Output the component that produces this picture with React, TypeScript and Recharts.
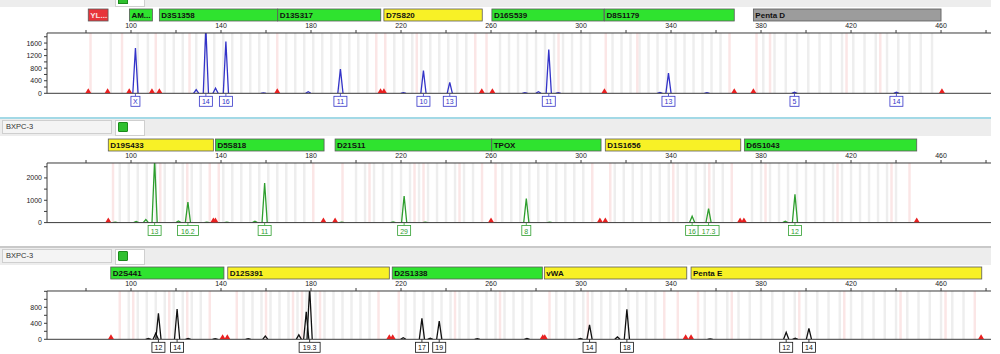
import React from 'react';
import { ComposedChart, Bar, Scatter, XAxis, YAxis, ReferenceArea, ReferenceLine, LabelList } from 'recharts';

const FONT = '"Liberation Sans", Arial, sans-serif';

// size axis (bp)
const SIZE_DOMAIN: [number, number] = [62.67, 482.2];
const SIZE_TICKS = [80, 100, 120, 140, 160, 180, 200, 220, 240, 260, 280, 300, 320, 340, 360, 380, 400, 420, 440, 460, 480];
const SIZE_LABELS = [100, 140, 180, 220, 260, 300, 340, 380, 420, 460];

// ---- panel 1 (blue dye) ----
const P1_SIZES = [101.9, 128.9, 133.2, 137.5, 142.1, 158.8, 178.7, 193.0, 221.0, 229.9, 241.6, 275.0, 281.0, 285.6, 289.8, 335.0, 338.8, 355.9, 394.8, 440.1];
const P1_RFU = [1440, 120, 2100, 160, 1650, 15, 50, 770, 20, 725, 350, 20, 50, 1390, 20, 30, 640, 20, 35, 35];
const P1_ALLELES = ['X', '', '14', '', '16', '', '', '11', '', '10', '13', '', '', '11', '', '', '13', '', '5', '14'];
const P1_MARKERS = [81.0, 89.6, 99.2, 109.3, 112.6, 165.0, 210.9, 212.4, 255.9, 260.6, 310.4, 368.1, 376.6, 460.4];
const P1_LOCI = ['YL...', 'AM...', 'D3S1358', 'D13S317', 'D7S820', 'D16S539', 'D8S1179', 'Penta D'];
const P1_LOCUS_START = [81, 99.3, 112.6, 165.2, 212.4, 260.4, 310.4, 376.6];
const P1_LOCUS_END = [89.8, 109.5, 165.2, 211, 256.1, 310.2, 368.1, 460];
const P1_LOCUS_KIND = ['red', 'green', 'green', 'green', 'yellow', 'green', 'green', 'grey'];
const P1_GREY_BINS = [91, 103, 107.5, 115, 119, 123, 129, 133, 137, 141, 145, 149, 153, 157, 161, 169, 173, 177, 181, 185, 189, 193, 197, 201, 205, 217, 221, 225, 229, 233, 237, 241, 245, 249, 264, 268, 272, 276, 280, 284, 288, 292, 296, 300, 304, 314, 318, 322, 326, 330, 334, 338, 342, 346, 350, 354, 358, 362, 381, 386, 391, 396, 401, 406, 411, 416, 421, 426, 431, 436, 441, 446, 451, 456];
const P1_PINK_BINS = [82, 96, 111, 126, 165, 209, 213, 227, 253, 258, 290, 311, 325, 366, 378, 384, 418, 433];
const P1_Y_TICKS = [0, 200, 400, 600, 800, 1000, 1200, 1400, 1600, 1800];
const P1_Y_LABELS = [0, 400, 800, 1200, 1600];

// ---- panel 2 (green dye) ----
const P2_SIZES = [92.9, 102.2, 106.5, 110.4, 121.0, 125.2, 133.6, 142.5, 155.0, 159.3, 193.6, 216.4, 221.3, 230.7, 275.6, 286.0, 349.3, 356.6, 390.7, 395.0];
const P2_RFU = [20, 50, 134, 2800, 70, 924, 20, 15, 60, 1776, 15, 30, 1193, 15, 1076, 20, 283, 628, 60, 1269];
const P2_ALLELES = ['', '', '', '13', '', '16.2', '', '', '', '11', '', '', '29', '', '8', '', '16', '17.3', '', '12'];
const P2_MARKERS = [89.9, 136.6, 137.5, 185.5, 190.7, 260, 308.4, 310.8, 370.7, 372.4, 449.2];
const P2_LOCI = ['D19S433', 'D5S818', 'D21S11', 'TPOX', 'D1S1656', 'D6S1043'];
const P2_LOCUS_START = [89.9, 137.5, 190.7, 260.3, 310.8, 372.6];
const P2_LOCUS_END = [136.6, 185.8, 260.3, 308.9, 371, 449.2];
const P2_LOCUS_KIND = ['yellow', 'green', 'green', 'green', 'yellow', 'green'];
const P2_GREY_BINS = [95, 99, 103, 107, 111, 115, 119, 123, 127, 131, 141, 145, 149, 153, 157, 161, 165, 169, 173, 177, 200, 204, 208, 212, 216, 220, 224, 228, 232, 236, 240, 244, 248, 252, 265, 269, 273, 277, 281, 285, 289, 293, 297, 301, 315, 319, 323, 327, 331, 335, 339, 343, 347, 351, 355, 359, 363, 376, 380, 384, 388, 392, 396, 400, 404, 408, 412, 416, 420, 424, 428, 432, 436, 440];
const P2_PINK_BINS = [92, 113, 125, 135, 139, 181, 194, 206, 226, 230, 246, 256, 262, 305, 313, 341, 357, 367, 382, 414, 438, 446];
const P2_Y_TICKS = [0, 500, 1000, 1500, 2000, 2500];
const P2_Y_LABELS = [0, 1000, 2000];

// ---- panel 3 (black dye) ----
const P3_SIZES = [107.6, 110.9, 112.1, 120.4, 125.3, 137.3, 152.0, 159.6, 174.5, 177.8, 179.3, 220.9, 229.2, 232.9, 236.9, 253.8, 275.9, 299.6, 303.7, 316.1, 320.3, 357.3, 391.1, 395.1, 401.2];
const P3_RFU = [20, 150, 650, 758, 20, 15, 15, 80, 110, 690, 1300, 40, 525, 30, 458, 15, 20, 20, 358, 60, 750, 10, 175, 30, 275];
const P3_ALLELES = ['', '', '12', '14', '', '', '', '', '', '', '19.3', '', '17', '', '19', '', '', '', '14', '', '18', '', '12', '', '14'];
const P3_MARKERS = [91.1, 140.7, 142.8, 214.8, 216.3, 283, 283.9, 346.5, 348.9, 477.8];
const P3_LOCI = ['D2S441', 'D12S391', 'D2S1338', 'vWA', 'Penta E'];
const P3_LOCUS_START = [91, 143, 216.1, 283.7, 348.9];
const P3_LOCUS_END = [141.3, 214.8, 282.8, 347, 478.1];
const P3_LOCUS_KIND = ['green', 'yellow', 'green', 'yellow', 'yellow'];
const P3_GREY_BINS = [99, 103, 107, 111, 115, 119, 123, 127, 131, 150, 154, 158, 162, 166, 170, 174, 178, 182, 186, 190, 194, 198, 202, 206, 222, 226, 230, 234, 238, 242, 246, 250, 254, 258, 262, 266, 270, 274, 278, 289, 293, 297, 301, 305, 309, 313, 317, 321, 325, 329, 333, 355, 360, 365, 370, 375, 380, 385, 390, 395, 400, 405, 410, 415, 420, 425, 430, 435, 440, 445, 450, 455, 460, 465, 470];
const P3_PINK_BINS = [95, 101, 117, 125, 135, 147, 160, 172, 176, 184, 210, 219, 244, 264, 286, 303, 337, 343, 352, 367, 397, 417, 442, 462, 475];
const P3_Y_TICKS = [0, 200, 400, 600, 800, 1000, 1200];
const P3_Y_LABELS = [0, 400, 800];

const LOCUS_FILL: Record<string, string> = {
  red: '#e8343a',
  green: '#2fe32f',
  yellow: '#f8f126',
  grey: '#9c9c9c',
};

const buildPeaks = (sizes: number[], rfu: number[], alleles: string[]) =>
  sizes.map((s, i) => ({ size: s, rfu: rfu[i], allele: alleles[i] }));

const buildLoci = (names: string[], starts: number[], ends: number[], kinds: string[]) =>
  names.map((n, i) => ({ name: n, start: starts[i], end: ends[i], kind: kinds[i] }));

const Peak = (props: any) => {
  const { x, y, width, height, color } = props;
  if (x == null || y == null) return null;
  const cx = x + width / 2;
  const base = y + height;
  return (
    <path d={`M${cx - 2.6},${base} L${cx},${y} L${cx + 2.6},${base}`} fill="none" stroke={color} strokeWidth={1.3} />
  );
};

const Marker = (props: any) => {
  const { cx, cy } = props;
  return <path d={`M${cx - 3},${cy} L${cx},${cy - 5} L${cx + 3},${cy} Z`} fill="#e82020" />;
};

const AlleleBox = (props: any) => {
  const vb = props.viewBox || props;
  const value = props.value;
  if (!value) return null;
  const x = vb.x ?? props.x;
  const y = vb.y ?? props.y;
  const w = vb.width ?? props.width;
  const h = vb.height ?? props.height;
  const cx = x + w / 2;
  const base = y + h;
  const bw = String(value).length * 4 + 5;
  return (
    <g>
      <line x1={cx} y1={base} x2={cx} y2={base + 3} stroke={props.color} strokeWidth={0.8} />
      <rect x={cx - bw / 2} y={base + 3} width={bw} height={10} fill="#fff" stroke={props.color} strokeWidth={0.8} />
      <text x={cx} y={base + 11} textAnchor="middle" fontSize={7} fontFamily={FONT} fill={props.color}>
        {value}
      </text>
    </g>
  );
};

const LocusBar = (props: any) => {
  const { x, y, width, name, kind } = props;
  if (x == null || y == null) return null;
  return (
    <g>
      <rect x={x} y={y - 24} width={width} height={12} fill={LOCUS_FILL[kind]} stroke="#5a5a5a" strokeWidth={0.8} />
      <text x={x + 2} y={y - 15} fontSize={8} fontWeight="bold" fontFamily={FONT} fill={kind === 'red' ? '#fbe0e0' : '#111'}>
        {name}
      </text>
    </g>
  );
};

interface PanelProps {
  top: number;
  plotH: number;
  peaks: { size: number; rfu: number; allele: string }[];
  markers: number[];
  loci: { name: string; start: number; end: number; kind: string }[];
  greyBins: number[];
  pinkBins: number[];
  yMax: number;
  yTicks: number[];
  yLabels: number[];
  color: string;
}

const Panel: React.FC<PanelProps> = ({ top, plotH, peaks, markers, loci, greyBins, pinkBins, yMax, yTicks, yLabels, color }) => {
  const markerData = markers.map(m => ({ size: m, rfu: 0 }));
  return (
    <div style={{ position: 'absolute', left: 0, top }}>
      <ComposedChart width={1000} height={36 + plotH + 18} data={peaks} margin={{ top: 22, right: 9, bottom: 18, left: 0 }}>
        <XAxis
          dataKey="size"
          type="number"
          orientation="top"
          domain={SIZE_DOMAIN}
          allowDataOverflow
          ticks={SIZE_TICKS}
          interval={0}
          tickFormatter={(v: number) => (SIZE_LABELS.includes(v) ? String(v) : '')}
          height={14}
          tickSize={3}
          stroke="#3a3a3a"
          tick={{ fontSize: 7, fill: '#222', fontFamily: FONT }}
        />
        <YAxis
          type="number"
          domain={[0, yMax]}
          allowDataOverflow
          ticks={yTicks}
          interval={0}
          tickFormatter={(v: number) => (yLabels.includes(v) ? String(v) : '')}
          width={47}
          tickSize={3}
          stroke="#3a3a3a"
          tick={{ fontSize: 7, fill: '#222', fontFamily: FONT }}
        />
        {greyBins.map(b => (
          <ReferenceArea key={'g' + b} x1={b - 0.55} x2={b + 0.55} y1={0} y2={yMax} fill="#eeeeee" fillOpacity={1} stroke="none" />
        ))}
        {pinkBins.map(b => (
          <ReferenceArea key={'p' + b} x1={b - 0.55} x2={b + 0.55} y1={0} y2={yMax} fill="#fbe6e6" fillOpacity={1} stroke="none" />
        ))}
        {loci.map(l => (
          <ReferenceArea
            key={l.name}
            x1={l.start}
            x2={l.end}
            y1={0}
            y2={yMax}
            fill="none"
            shape={(p: any) => <LocusBar {...p} name={l.name} kind={l.kind} />}
          />
        ))}
        <ReferenceLine y={0} stroke="#3a3a3a" />
        <Scatter data={markerData} dataKey="rfu" isAnimationActive={false} shape={Marker} />
        <Bar dataKey="rfu" isAnimationActive={false} shape={(p: any) => <Peak {...p} color={color} />}>
          <LabelList dataKey="allele" content={(p: any) => <AlleleBox {...p} color={color} />} />
        </Bar>
      </ComposedChart>
    </div>
  );
};

const Header = ({ top, label, cyan }: { top: number; label: string; cyan?: boolean }) => (
  <>
    <div style={{ position: 'absolute', left: 0, top: top - 2, width: 991, height: 2, background: cyan ? '#a3d9e6' : '#c9c9c9' }} />
    <div style={{ position: 'absolute', left: 0, top, width: 991, height: 17, background: '#ededed' }} />
    <div
      style={{
        position: 'absolute', left: 2, top: top + 1, width: 110, height: 14, boxSizing: 'border-box',
        border: '1px solid #cfcfcf', background: '#f4f4f4', fontFamily: FONT, fontSize: 7.5, color: '#333',
        lineHeight: '11px', paddingLeft: 3,
      }}
    >
      {label}
    </div>
    <div style={{ position: 'absolute', left: 115, top: top + 1, width: 30, height: 16, boxSizing: 'border-box', border: '1px solid #cfcfcf', background: '#fff' }} />
    <div style={{ position: 'absolute', left: 118, top: top + 3, width: 10, height: 10, boxSizing: 'border-box', border: '1px solid #1c8a1c', background: '#2fc02f', borderRadius: 1 }} />
  </>
);

const App: React.FC = () => {
  const p1Peaks = buildPeaks(P1_SIZES, P1_RFU, P1_ALLELES);
  const p2Peaks = buildPeaks(P2_SIZES, P2_RFU, P2_ALLELES);
  const p3Peaks = buildPeaks(P3_SIZES, P3_RFU, P3_ALLELES);
  return (
    <div style={{ position: 'absolute', left: 0, top: 0, width: 1000, height: 354, overflow: 'hidden', background: '#fff' }}>
      {/* top strip of first panel, cut by the screenshot */}
      <div style={{ position: 'absolute', left: 0, top: 0, width: 991, height: 7, background: '#ededed' }} />
      <div style={{ position: 'absolute', left: 115, top: -2, width: 30, height: 9, boxSizing: 'border-box', border: '1px solid #cfcfcf', background: '#fff' }} />
      <div style={{ position: 'absolute', left: 118, top: -4, width: 10, height: 8, boxSizing: 'border-box', border: '1px solid #1c8a1c', background: '#2fc02f' }} />
      <Header top={119} label="BXPC-3" cyan />
      <Header top={248} label="BXPC-3" />

      <Panel
        top={-3}
        plotH={60.3}
        peaks={p1Peaks}
        markers={P1_MARKERS}
        loci={buildLoci(P1_LOCI, P1_LOCUS_START, P1_LOCUS_END, P1_LOCUS_KIND)}
        greyBins={P1_GREY_BINS}
        pinkBins={P1_PINK_BINS}
        yMax={1920}
        yTicks={P1_Y_TICKS}
        yLabels={P1_Y_LABELS}
        color="#3333c8"
      />
      <Panel
        top={126.7}
        plotH={59.6}
        peaks={p2Peaks}
        markers={P2_MARKERS}
        loci={buildLoci(P2_LOCI, P2_LOCUS_START, P2_LOCUS_END, P2_LOCUS_KIND)}
        greyBins={P2_GREY_BINS}
        pinkBins={P2_PINK_BINS}
        yMax={2670}
        yTicks={P2_Y_TICKS}
        yLabels={P2_Y_LABELS}
        color="#2e9e2e"
      />
      <Panel
        top={255}
        plotH={48.3}
        peaks={p3Peaks}
        markers={P3_MARKERS}
        loci={buildLoci(P3_LOCI, P3_LOCUS_START, P3_LOCUS_END, P3_LOCUS_KIND)}
        greyBins={P3_GREY_BINS}
        pinkBins={P3_PINK_BINS}
        yMax={1208}
        yTicks={P3_Y_TICKS}
        yLabels={P3_Y_LABELS}
        color="#111111"
      />
    </div>
  );
};

export default App;
